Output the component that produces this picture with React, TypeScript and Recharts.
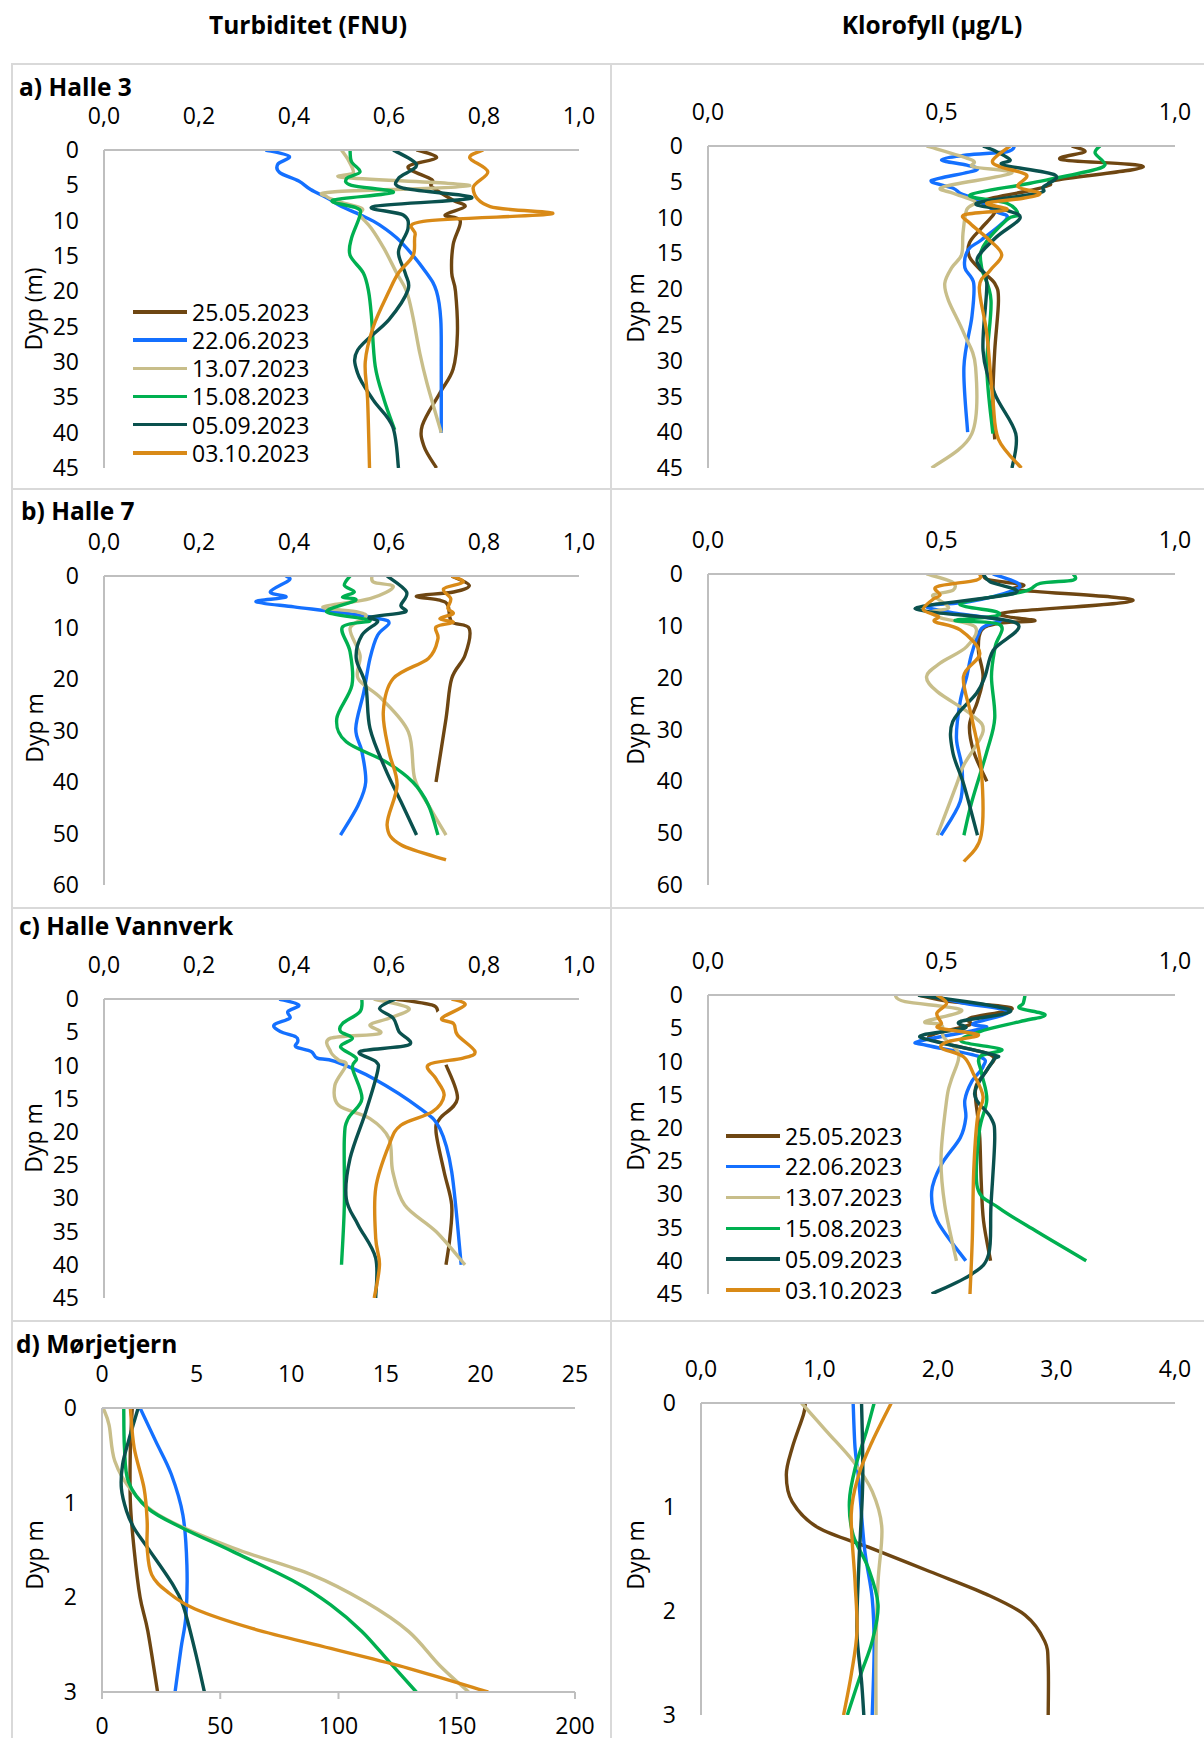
import React from 'react';
import { LineChart, Line, XAxis, YAxis, Legend } from 'recharts';

type Pt = [number, number | null];

// ---------- categories / labels ----------
const DATES = ['25.05.2023', '22.06.2023', '13.07.2023', '15.08.2023', '05.09.2023', '03.10.2023'];
const HEADER_TURB = 'Turbiditet (FNU)';
const HEADER_CHL = 'Klorofyll (µg/L)';
const TITLES = ['a) Halle 3', 'b) Halle 7', 'c) Halle Vannverk', 'd) Mørjetjern'];

// ---------- tick values ----------
const turbTicks = [0, 0.2, 0.4, 0.6, 0.8, 1.0];
const chlTicks = [0, 0.5, 1.0];
const depth45 = [0, 5, 10, 15, 20, 25, 30, 35, 40, 45];
const depth60 = [0, 10, 20, 30, 40, 50, 60];
const depth3 = [0, 1, 2, 3];
const morjTopTicks = [0, 5, 10, 15, 20, 25];
const morjBotTicks = [0, 50, 100, 150, 200];
const morjChlTicks = [0, 1, 2, 3, 4];

// ---------- a) Halle 3, turbidity [depth, FNU] ----------
const h3T_2505: Pt[] = [[0, 0.658], [1.1, 0.70], [2.4, 0.64], [4.2, 0.69], [5.2, 0.69], [7.1, 0.735], [8.0, 0.76], [9.2, 0.718], [10, 0.75], [13.4, 0.735], [17.4, 0.732], [20, 0.74], [26, 0.744], [31, 0.735], [34.4, 0.707], [39, 0.67], [42, 0.674], [45, 0.70]];
const h3T_2206: Pt[] = [[0, 0.34], [0.9, 0.39], [2, 0.366], [3.2, 0.37], [4.4, 0.41], [5.6, 0.435], [6.8, 0.47], [8, 0.50], [9.2, 0.54], [10.6, 0.58], [13, 0.625], [17.4, 0.679], [20, 0.70], [24, 0.709], [30.6, 0.71], [40, 0.71]];
const h3T_1307: Pt[] = [[0, 0.50], [1.5, 0.515], [3.2, 0.525], [3.9, 0.507], [5.05, 0.77], [5.9, 0.486], [6.6, 0.469], [7.4, 0.50], [8.25, 0.543], [9.2, 0.539], [11.1, 0.563], [14, 0.59], [17.4, 0.616], [20, 0.637], [23.5, 0.65], [28.8, 0.665], [33, 0.68], [40, 0.71]];
const h3T_1508: Pt[] = [[0, 0.518], [1.65, 0.521], [3.1, 0.539], [4.0, 0.511], [5.0, 0.521], [6.0, 0.609], [7.1, 0.482], [8.2, 0.532], [9.2, 0.539], [12.5, 0.521], [14.9, 0.518], [17.4, 0.546], [20, 0.557], [23.5, 0.563], [30.6, 0.571], [35.4, 0.59], [39.6, 0.612]];
const h3T_0509: Pt[] = [[0, 0.609], [2.1, 0.658], [4.0, 0.62], [5.4, 0.63], [6.8, 0.774], [8.0, 0.567], [9.2, 0.63], [11.1, 0.64], [14.4, 0.62], [17.4, 0.634], [19.8, 0.64], [24, 0.60], [28.3, 0.534], [31.6, 0.534], [35.4, 0.567], [39.2, 0.608], [45, 0.62]];
const h3T_0310: Pt[] = [[0, 0.798], [1.1, 0.77], [3.1, 0.808], [5.4, 0.777], [8.0, 0.813], [9.05, 0.942], [10.1, 0.672], [12, 0.655], [14.9, 0.651], [17.4, 0.62], [20, 0.60], [25, 0.567], [30, 0.55], [35.4, 0.555], [45, 0.559]];

// ---------- a) Halle 3, chlorophyll [depth, µg/L] ----------
const h3C_2505: Pt[] = [[0, 0.779], [0.8, 0.807], [1.9, 0.757], [2.9, 0.932], [4.75, 0.747], [5.45, 0.732], [6.15, 0.696], [7.6, 0.59], [8.8, 0.613], [9.7, 0.61], [11.5, 0.585], [13.5, 0.56], [15.5, 0.56], [17.4, 0.585], [19.2, 0.614], [21.6, 0.622], [28.6, 0.614], [35.5, 0.61], [41, 0.614]];
const h3C_2206: Pt[] = [[0, 0.657], [0.8, 0.64], [1.26, 0.554], [1.96, 0.50], [2.66, 0.554], [3.35, 0.575], [4.5, 0.497], [5, 0.479], [5.9, 0.525], [6.6, 0.54], [7.5, 0.575], [9.2, 0.618], [10.1, 0.64], [13.1, 0.586], [14.5, 0.557], [17, 0.55], [19.2, 0.569], [23.9, 0.565], [30.9, 0.548], [40, 0.556]];
const h3C_1307: Pt[] = [[0, 0.468], [1.96, 0.565], [2.9, 0.568], [3.8, 0.65], [5.7, 0.504], [6.6, 0.525], [7.8, 0.572], [8.9, 0.554], [12.2, 0.546], [15.2, 0.543], [17, 0.522], [19.2, 0.507], [21.6, 0.515], [26.2, 0.548], [30.9, 0.573], [40.2, 0.565], [45, 0.479]];
const h3C_1508: Pt[] = [[0, 0.839], [1.0, 0.829], [2.66, 0.85], [3.6, 0.81], [5.2, 0.69], [6.85, 0.561], [8, 0.64], [9.6, 0.664], [10.3, 0.64], [14.1, 0.589], [17, 0.586], [21.6, 0.606], [30.9, 0.597], [40.2, 0.61]];
const h3C_0509: Pt[] = [[0, 0.589], [0.8, 0.618], [1.96, 0.647], [2.66, 0.632], [4.05, 0.743], [5.7, 0.718], [6.6, 0.707], [8, 0.575], [9.0, 0.64], [10.1, 0.668], [12.7, 0.618], [15.5, 0.578], [17, 0.582], [19.2, 0.597], [28.6, 0.589], [34.6, 0.614], [40.2, 0.659], [45, 0.651]];
const h3C_0310: Pt[] = [[0, 0.647], [1.96, 0.61], [2.9, 0.625], [4.05, 0.682], [5.7, 0.664], [6.6, 0.711], [7.3, 0.675], [8.0, 0.597], [8.9, 0.64], [9.6, 0.55], [10.8, 0.561], [13, 0.6], [15.2, 0.629], [17.4, 0.604], [19.7, 0.581], [26.2, 0.597], [35.5, 0.61], [41, 0.622], [45, 0.671]];

// ---------- b) Halle 7, turbidity ----------
const h7T_2505: Pt[] = [[0, 0.732], [1.8, 0.769], [3.1, 0.736], [3.9, 0.658], [4.7, 0.707], [5.7, 0.724], [8.9, 0.732], [10.2, 0.769], [15.4, 0.76], [19.9, 0.732], [27.7, 0.72], [40, 0.699]];
const h7T_2206: Pt[] = [[0, 0.383], [0.8, 0.39], [3.1, 0.35], [4.1, 0.383], [5, 0.32], [6, 0.40], [7, 0.49], [8.3, 0.58], [9.2, 0.60], [11.5, 0.576], [16, 0.56], [22.5, 0.547], [29.6, 0.53], [34.1, 0.543], [40, 0.551], [44.5, 0.535], [50.3, 0.498]];
const h7T_1307: Pt[] = [[0, 0.564], [1.2, 0.568], [2.1, 0.609], [4.4, 0.56], [6, 0.461], [7, 0.535], [8, 0.551], [10.2, 0.518], [15.4, 0.539], [19.9, 0.535], [23.8, 0.584], [30.3, 0.641], [39.3, 0.654], [44.5, 0.683], [50.3, 0.72]];
const h7T_1508: Pt[] = [[0, 0.518], [1.8, 0.506], [3.1, 0.527], [4.1, 0.502], [4.7, 0.53], [7, 0.469], [8.6, 0.56], [9.9, 0.502], [14.7, 0.518], [21.2, 0.522], [27.7, 0.49], [32.2, 0.51], [36, 0.592], [40, 0.65], [44.5, 0.683], [50.3, 0.703]];
const h7T_0509: Pt[] = [[0, 0.596], [3.1, 0.637], [5.7, 0.625], [7, 0.633], [8, 0.56], [8.9, 0.576], [11.5, 0.543], [16, 0.531], [21.2, 0.551], [29.6, 0.56], [37.4, 0.592], [43.8, 0.625], [50.3, 0.658]];
const h7T_0310: Pt[] = [[0, 0.732], [1.2, 0.756], [2.5, 0.715], [4.4, 0.73], [6.3, 0.724], [7.3, 0.735], [8.3, 0.707], [9, 0.735], [9.9, 0.699], [12.2, 0.703], [16, 0.683], [19.9, 0.609], [26.4, 0.588], [34.1, 0.6], [40.6, 0.617], [48.4, 0.596], [52.2, 0.625], [55.1, 0.72]];

// ---------- b) Halle 7, chlorophyll ----------
const h7C_2505: Pt[] = [[0, 0.59], [1.1, 0.60], [2.1, 0.675], [3.1, 0.668], [5.1, 0.91], [7.3, 0.647], [8.2, 0.64], [9.0, 0.70], [9.5, 0.625], [10.8, 0.586], [14.7, 0.579], [19.8, 0.589], [24.6, 0.577], [29.1, 0.56], [34.3, 0.569], [40, 0.597]];
const h7C_2206: Pt[] = [[0, 0.61], [1.8, 0.664], [3.2, 0.653], [5.3, 0.561], [6.2, 0.468], [7.6, 0.533], [8.9, 0.625], [10.5, 0.586], [15.3, 0.565], [19.8, 0.554], [24.6, 0.54], [31.7, 0.532], [37.5, 0.544], [43.9, 0.54], [50.4, 0.499]];
const h7C_1307: Pt[] = [[0, 0.468], [1.5, 0.522], [3.1, 0.525], [4.05, 0.482], [5.0, 0.495], [6.6, 0.515], [7.3, 0.479], [8.5, 0.50], [10.2, 0.572], [14, 0.554], [17.2, 0.497], [19.8, 0.468], [22.7, 0.491], [27.2, 0.565], [30.4, 0.589], [36.8, 0.548], [40.7, 0.532], [50.4, 0.491]];
const h7C_1508: Pt[] = [[0, 0.782], [1.16, 0.782], [1.8, 0.711], [3.4, 0.675], [5.7, 0.54], [7.3, 0.618], [8.2, 0.61], [9.0, 0.529], [9.8, 0.625], [14, 0.615], [19.8, 0.607], [27.8, 0.614], [34.3, 0.597], [43.9, 0.565], [50.4, 0.548]];
const h7C_0509: Pt[] = [[0, 0.589], [1.5, 0.604], [3.7, 0.657], [6.2, 0.461], [7.3, 0.475], [9.5, 0.661], [14.7, 0.611], [19.8, 0.593], [23, 0.575], [28.5, 0.524], [34.3, 0.524], [40.7, 0.548], [50.4, 0.577]];
const h7C_0310: Pt[] = [[0, 0.582], [1.16, 0.575], [2.45, 0.49], [4.05, 0.497], [5.0, 0.48], [6.9, 0.461], [8.2, 0.493], [9.2, 0.486], [10.8, 0.54], [15.3, 0.582], [19.8, 0.547], [27.8, 0.565], [37.5, 0.585], [50.4, 0.585], [55.5, 0.548]];

// ---------- c) Halle Vannverk, turbidity (null = gap in the profile) ----------
const hvT_2505: Pt[] = [[0, 0.613], [0.9, 0.69], [1.9, 0.703], [5, null], [9.9, 0.72], [15, 0.744], [18, 0.707], [20, 0.699], [26, 0.716], [31, 0.732], [36, 0.728], [40, 0.72]];
const hvT_2206: Pt[] = [[0, 0.369], [0.9, 0.41], [1.9, 0.387], [2.9, 0.391], [3.9, 0.358], [4.9, 0.371], [5.7, 0.404], [6.4, 0.408], [7.2, 0.404], [7.9, 0.436], [8.9, 0.449], [9.4, 0.486], [12, 0.568], [16.5, 0.666], [19.5, 0.707], [26, 0.732], [40, 0.752]];
const hvT_1307: Pt[] = [[0, 0.568], [1.4, 0.642], [2.9, 0.60], [3.9, 0.56], [5.2, 0.58], [5.9, 0.477], [7.9, 0.477], [9.2, 0.494], [9.9, 0.51], [13, 0.486], [16, 0.494], [18, 0.56], [21, 0.60], [26, 0.608], [31, 0.633], [35, 0.699], [40, 0.76]];
const hvT_1508: Pt[] = [[0, 0.543], [1.9, 0.539], [3.7, 0.502], [4.9, 0.498], [5.9, 0.523], [7.2, 0.498], [8.9, 0.531], [10.4, 0.523], [15, 0.543], [18, 0.514], [21, 0.506], [31, 0.506], [40, 0.50]];
const hvT_0509: Pt[] = [[0, 0.613], [1.4, 0.58], [2.9, 0.609], [4.9, 0.621], [6.9, 0.642], [7.9, 0.539], [9.4, 0.572], [10.9, 0.576], [17, 0.551], [24, 0.518], [30, 0.51], [34, 0.535], [39, 0.572], [45, 0.572]];
const hvT_0310: Pt[] = [[0, 0.732], [0.9, 0.76], [2.9, 0.711], [3.7, 0.736], [5.4, 0.744], [7.9, 0.781], [8.9, 0.756], [9.9, 0.683], [12, 0.699], [14.5, 0.716], [17, 0.691], [19, 0.625], [22, 0.60], [28.5, 0.572], [36, 0.572], [40, 0.58], [45, 0.569]];

// ---------- c) Halle Vannverk, chlorophyll ----------
const hvC_2505: Pt[] = [[0, 0.45], [1.0, 0.52], [2.0, 0.651], [3.5, 0.56], [4.5, 0.56], [6, 0.48], [7, 0.49], [9, 0.605], [11, 0.60], [13.5, 0.575], [15.5, 0.573], [18, 0.577], [21.5, 0.582], [28, 0.585], [34, 0.59], [40, 0.605]];
const hvC_2206: Pt[] = [[0, 0.47], [1.2, 0.546], [2.5, 0.643], [4.3, 0.568], [4.8, 0.597], [5.4, 0.565], [7.0, 0.45], [7.6, 0.47], [9.3, 0.582], [10.8, 0.589], [13, 0.565], [15.8, 0.55], [18.5, 0.552], [21.5, 0.54], [25.6, 0.499], [29.6, 0.479], [34, 0.491], [40, 0.552]];
const hvC_1307: Pt[] = [[0, 0.40], [1.0, 0.422], [2.26, 0.543], [4.0, 0.465], [4.5, 0.50], [6.3, 0.504], [8.3, 0.533], [9.8, 0.536], [13, 0.52], [15.8, 0.511], [24.5, 0.499], [31.6, 0.507], [40, 0.532]];
const hvC_1508: Pt[] = [[0, 0.679], [1.25, 0.675], [2.0, 0.668], [3.0, 0.722], [4.0, 0.668], [5.5, 0.582], [7.0, 0.543], [8.2, 0.629], [9.3, 0.582], [11.8, 0.586], [15.8, 0.597], [20.5, 0.581], [29, 0.577], [32, 0.622], [35.6, 0.704], [40, 0.81]];
const hvC_0509: Pt[] = [[0, 0.45], [2.26, 0.647], [4.0, 0.54], [5.0, 0.55], [6.0, 0.461], [6.8, 0.475], [9.0, 0.611], [9.8, 0.611], [13.8, 0.575], [15.8, 0.575], [18.5, 0.606], [21.5, 0.614], [31.6, 0.606], [39, 0.601], [42, 0.565], [45, 0.479]];
const hvC_0310: Pt[] = [[0, 0.49], [1.25, 0.511], [2.75, 0.49], [4.25, 0.50], [5.0, 0.495], [6.0, 0.579], [7.0, 0.515], [8.0, 0.50], [9.3, 0.547], [11.8, 0.568], [15.3, 0.589], [18.5, 0.577], [26.5, 0.569], [36.6, 0.566], [45, 0.561]];

// ---------- d) Mørjetjern, turbidity (0-200 scale) ----------
const mjT_2505: Pt[] = [[0, 12.8], [0.42, 12], [1, 12], [1.5, 13.6], [2, 16.1], [2.36, 19.4], [3, 23.5]];
const mjT_2206: Pt[] = [[0, 16.1], [0.35, 22.7], [0.7, 29.3], [1.13, 34.2], [1.66, 35.9], [2.19, 35.5], [2.54, 33.4], [3, 30.9]];
const mjT_1307: Pt[] = [[0, 0.5], [0.18, 3], [0.56, 5.4], [0.88, 12.8], [1.16, 26], [1.48, 55.6], [1.76, 88.5], [2.05, 111.5], [2.36, 129.6], [2.72, 142.8], [3, 155]];
const mjT_1508: Pt[] = [[0, 9.2], [0.42, 9.5], [0.78, 11.2], [1.06, 19.4], [1.27, 34.2], [1.52, 55.6], [1.84, 81.9], [2.08, 96.7], [2.36, 109.9], [2.68, 121.4], [3, 132.9]];
const mjT_0509: Pt[] = [[0, 15.3], [0.35, 11.2], [0.6, 8.7], [0.85, 8.2], [1.09, 10.4], [1.27, 13.6], [1.48, 19.4], [1.84, 29.3], [2.08, 34.2], [2.54, 39.1], [3, 43.3]];
const mjT_0310: Pt[] = [[0, 12], [0.42, 13.6], [0.85, 17.8], [1.2, 19.1], [1.48, 19.1], [1.76, 21], [1.94, 27.6], [2.12, 39.1], [2.33, 63.8], [2.54, 96.7], [2.75, 129.6], [3, 163.3]];

// ---------- d) Mørjetjern, chlorophyll ----------
const mjC_2505: Pt[] = [[0, 0.88], [0.11, 0.865], [0.43, 0.77], [0.69, 0.72], [0.95, 0.77], [1.2, 0.99], [1.4, 1.445], [1.62, 1.93], [1.84, 2.41], [2.04, 2.735], [2.29, 2.9], [2.52, 2.93], [3, 2.93]];
const mjC_2206: Pt[] = [[0, 1.284], [0.43, 1.3], [0.75, 1.332], [1.4, 1.38], [1.88, 1.445], [2.36, 1.461], [3, 1.445]];
const mjC_1307: Pt[] = [[0, 0.848], [0.27, 1.058], [0.56, 1.284], [0.85, 1.445], [1.2, 1.526], [1.72, 1.494], [2.36, 1.477], [3, 1.477]];
const mjC_1508: Pt[] = [[0, 1.461], [0.27, 1.397], [0.63, 1.3], [0.95, 1.252], [1.27, 1.284], [1.59, 1.413], [1.94, 1.494], [2.29, 1.445], [2.61, 1.348], [3, 1.235]];
const mjC_0509: Pt[] = [[0, 1.355], [0.75, 1.365], [1.56, 1.332], [2.2, 1.316], [2.68, 1.355], [3, 1.374]];
const mjC_0310: Pt[] = [[0, 1.606], [0.37, 1.445], [0.69, 1.332], [1.07, 1.268], [1.72, 1.3], [2.2, 1.316], [2.61, 1.268], [3, 1.203]];

// ---------- styles ----------
const FONT = "'Open Sans', 'DejaVu Sans', sans-serif";
const FS = 23;
const FS_BOLD = 24.5;
const AXIS = '#bfbfbf';
const BORDER = '#d9d9d9';
const SERIES_COLORS = ['#6E4612', '#1470FF', '#C8BE8A', '#00B050', '#0A514E', '#D98A17'];
const LW = 3.4;

// Excel-like smoothed line (Catmull-Rom through the data points)
const excelSmooth: any = (context: any) => {
  let pts: number[][] = [];
  return {
    areaStart() {},
    areaEnd() {},
    lineStart() { pts = []; },
    point(x: number, y: number) { pts.push([+x, +y]); },
    lineEnd() {
      const n = pts.length;
      if (!n) return;
      context.moveTo(pts[0][0], pts[0][1]);
      for (let i = 0; i < n - 1; i++) {
        const p0 = pts[i > 0 ? i - 1 : 0];
        const p1 = pts[i];
        const p2 = pts[i + 1];
        const p3 = pts[i + 2 < n ? i + 2 : n - 1];
        context.bezierCurveTo(
          p1[0] + (p2[0] - p0[0]) / 6, p1[1] + (p2[1] - p0[1]) / 6,
          p2[0] - (p3[0] - p1[0]) / 6, p2[1] - (p3[1] - p1[1]) / 6,
          p2[0], p2[1]
        );
      }
    },
  };
};

// split a profile into continuous segments at missing (null) values
const splitSegments = (s: Pt[]) => {
  const segs: { d: number; v: number }[][] = [[]];
  s.forEach(([d, v]) => {
    if (v == null) segs.push([]);
    else segs[segs.length - 1].push({ d, v });
  });
  return segs.filter((g) => g.length > 0);
};

const fmt1 = (v: number) => v.toFixed(1).replace('.', ',');
const fmt0 = (v: number) => String(v);

type LegendCfg = { x: number; y: number; gap: number };
type PanelCfg = {
  cell: [number, number, number, number];
  plot: [number, number, number, number];
  xDomain: [number, number];
  xTicks: number[];
  xFmt: (v: number) => string;
  bottom?: { domain: [number, number]; ticks: number[] };
  yDomain: [number, number];
  yTicks: number[];
  yLabel: string;
  yLabelPos: [number, number];
  series: Pt[][];
  legend?: LegendCfg;
};

const HT = 40, YW = 60, HB = 40;

const YLab = (props: any) => {
  const { text, lx, ly } = props;
  return (
    <text x={lx} y={ly} transform={`rotate(-90, ${lx}, ${ly})`} textAnchor="middle" dominantBaseline="central"
      style={{ fontFamily: FONT, fontSize: FS, fill: '#000' }}>{text}</text>
  );
};

const LegendBox = ({ gap }: { gap: number }) => (
  <div style={{ fontFamily: FONT, fontSize: FS, color: '#000' }}>
    {DATES.map((d, i) => (
      <div key={d} style={{ display: 'flex', alignItems: 'center', height: gap }}>
        <div style={{ width: 54, height: LW, background: SERIES_COLORS[i], marginRight: 5 }} />
        <span style={{ lineHeight: `${gap}px`, whiteSpace: 'nowrap' }}>{d}</span>
      </div>
    ))}
  </div>
);

const tickStyle = { fontFamily: FONT, fontSize: FS, fill: '#000' };

function PanelChart({ p }: { p: PanelCfg }) {
  const [cx, cy, cw, ch] = p.cell;
  const [x0, y0, x1, y1] = p.plot;
  const margin = {
    top: y0 - cy - HT,
    left: x0 - cx - YW,
    right: cx + cw - x1,
    bottom: cy + ch - y1 - (p.bottom ? HB : 0),
  };
  const lineAxis = p.bottom ? 'b' : 't';
  return (
    <div style={{ position: 'absolute', left: cx, top: cy, width: cw, height: ch }}>
      <LineChart width={cw} height={ch} layout="vertical" margin={margin}>
        <XAxis xAxisId="t" orientation="top" type="number" domain={p.xDomain} ticks={p.xTicks} allowDataOverflow
          interval={0} tickFormatter={p.xFmt} height={HT} tickSize={0} tickMargin={26} tickLine={false}
          axisLine={{ stroke: AXIS, strokeWidth: 2 }} tick={tickStyle} />
        {p.bottom && (
          <XAxis xAxisId="b" orientation="bottom" type="number" domain={p.bottom.domain} ticks={p.bottom.ticks}
            allowDataOverflow interval={0} tickFormatter={fmt0} height={HB} tickSize={7} tickMargin={19}
            tickLine={{ stroke: AXIS, strokeWidth: 2 }} axisLine={{ stroke: AXIS, strokeWidth: 2 }} tick={tickStyle} />
        )}
        <YAxis type="number" dataKey="d" domain={p.yDomain} ticks={p.yTicks} allowDataOverflow interval={0}
          width={YW} tickSize={0} tickMargin={25} tickLine={false} axisLine={{ stroke: AXIS, strokeWidth: 2 }}
          tick={tickStyle}
          label={<YLab text={p.yLabel} lx={p.yLabelPos[0] - cx} ly={p.yLabelPos[1] - cy} />} />
        {p.series.flatMap((s, i) =>
          splitSegments(s).map((seg, k) => (
            <Line key={`${DATES[i]}-${k}`} name={DATES[i]} xAxisId={lineAxis}
              data={seg} dataKey="v" type={excelSmooth}
              stroke={SERIES_COLORS[i]} strokeWidth={LW} dot={false} activeDot={false}
              isAnimationActive={false} />
          ))
        )}
        {p.legend && (
          <Legend layout="vertical" align="center" verticalAlign="middle"
            wrapperStyle={{ left: p.legend.x - cx, top: p.legend.y - cy - p.legend.gap / 2, width: 220 }}
            content={() => <LegendBox gap={p.legend!.gap} />} />
        )}
      </LineChart>
    </div>
  );
}

const LEFT: [number, number] = [11, 599];
const RIGHT: [number, number] = [610, 594];
const ROWS: [number, number][] = [[63, 425], [488, 419], [907, 413], [1320, 418]];

const PANELS: PanelCfg[] = [
  {
    cell: [LEFT[0], ROWS[0][0], LEFT[1], ROWS[0][1]], plot: [104, 150, 579, 468],
    xDomain: [0, 1], xTicks: turbTicks, xFmt: fmt1, yDomain: [0, 45], yTicks: depth45,
    yLabel: 'Dyp (m)', yLabelPos: [33, 309],
    series: [h3T_2505, h3T_2206, h3T_1307, h3T_1508, h3T_0509, h3T_0310],
    legend: { x: 133, y: 312, gap: 28.2 },
  },
  {
    cell: [RIGHT[0], ROWS[0][0], RIGHT[1], ROWS[0][1]], plot: [708, 146, 1175, 468],
    xDomain: [0, 1], xTicks: chlTicks, xFmt: fmt1, yDomain: [0, 45], yTicks: depth45,
    yLabel: 'Dyp m', yLabelPos: [635, 308],
    series: [h3C_2505, h3C_2206, h3C_1307, h3C_1508, h3C_0509, h3C_0310],
  },
  {
    cell: [LEFT[0], ROWS[1][0], LEFT[1], ROWS[1][1]], plot: [104, 576, 579, 885],
    xDomain: [0, 1], xTicks: turbTicks, xFmt: fmt1, yDomain: [0, 60], yTicks: depth60,
    yLabel: 'Dyp m', yLabelPos: [34, 728],
    series: [h7T_2505, h7T_2206, h7T_1307, h7T_1508, h7T_0509, h7T_0310],
  },
  {
    cell: [RIGHT[0], ROWS[1][0], RIGHT[1], ROWS[1][1]], plot: [708, 574, 1175, 885],
    xDomain: [0, 1], xTicks: chlTicks, xFmt: fmt1, yDomain: [0, 60], yTicks: depth60,
    yLabel: 'Dyp m', yLabelPos: [635, 730],
    series: [h7C_2505, h7C_2206, h7C_1307, h7C_1508, h7C_0509, h7C_0310],
  },
  {
    cell: [LEFT[0], ROWS[2][0], LEFT[1], ROWS[2][1]], plot: [104, 999, 579, 1298],
    xDomain: [0, 1], xTicks: turbTicks, xFmt: fmt1, yDomain: [0, 45], yTicks: depth45,
    yLabel: 'Dyp m', yLabelPos: [33, 1138],
    series: [hvT_2505, hvT_2206, hvT_1307, hvT_1508, hvT_0509, hvT_0310],
  },
  {
    cell: [RIGHT[0], ROWS[2][0], RIGHT[1], ROWS[2][1]], plot: [708, 995, 1175, 1294],
    xDomain: [0, 1], xTicks: chlTicks, xFmt: fmt1, yDomain: [0, 45], yTicks: depth45,
    yLabel: 'Dyp m', yLabelPos: [635, 1136],
    series: [hvC_2505, hvC_2206, hvC_1307, hvC_1508, hvC_0509, hvC_0310],
    legend: { x: 726, y: 1136, gap: 30.8 },
  },
  {
    cell: [LEFT[0], ROWS[3][0], LEFT[1], ROWS[3][1]], plot: [102, 1408, 575, 1692],
    xDomain: [0, 25], xTicks: morjTopTicks, xFmt: fmt0,
    bottom: { domain: [0, 200], ticks: morjBotTicks },
    yDomain: [0, 3], yTicks: depth3,
    yLabel: 'Dyp m', yLabelPos: [34, 1555],
    series: [mjT_2505, mjT_2206, mjT_1307, mjT_1508, mjT_0509, mjT_0310],
  },
  {
    cell: [RIGHT[0], ROWS[3][0], RIGHT[1], ROWS[3][1]], plot: [701, 1403, 1175, 1715],
    xDomain: [0, 4], xTicks: morjChlTicks, xFmt: fmt1, yDomain: [0, 3], yTicks: depth3,
    yLabel: 'Dyp m', yLabelPos: [635, 1555],
    series: [mjC_2505, mjC_2206, mjC_1307, mjC_1508, mjC_0509, mjC_0310],
  },
];

const TITLE_POS: [number, number][] = [[19, 87], [21, 511], [19, 926], [16, 1344]];

export default function App() {
  return (
    <div style={{ position: 'absolute', left: 0, top: 0, width: 1204, height: 1738, background: '#fff', overflow: 'hidden', fontFamily: FONT }}>
      {ROWS.map(([ry, rh], ri) => (
        <React.Fragment key={ri}>
          <div style={{ position: 'absolute', left: LEFT[0], top: ry, width: LEFT[1] + 2, height: rh + 2, border: `2px solid ${BORDER}`, boxSizing: 'border-box' }} />
          <div style={{ position: 'absolute', left: RIGHT[0], top: ry, width: RIGHT[1] + 2, height: rh + 2, border: `2px solid ${BORDER}`, boxSizing: 'border-box' }} />
        </React.Fragment>
      ))}
      <div style={{ position: 'absolute', left: 108, width: 400, top: 9, height: 32, lineHeight: '32px', textAlign: 'center', fontWeight: 700, fontSize: FS_BOLD, color: '#000' }}>{HEADER_TURB}</div>
      <div style={{ position: 'absolute', left: 732, width: 400, top: 9, height: 32, lineHeight: '32px', textAlign: 'center', fontWeight: 700, fontSize: FS_BOLD, color: '#000' }}>{HEADER_CHL}</div>
      {TITLES.map((t, i) => (
        <div key={t} style={{ position: 'absolute', left: TITLE_POS[i][0], top: TITLE_POS[i][1] - 14, height: 28, lineHeight: '28px', fontWeight: 700, fontSize: FS_BOLD, color: '#000', whiteSpace: 'nowrap' }}>{t}</div>
      ))}
      {PANELS.map((p, i) => <PanelChart key={i} p={p} />)}
    </div>
  );
}
